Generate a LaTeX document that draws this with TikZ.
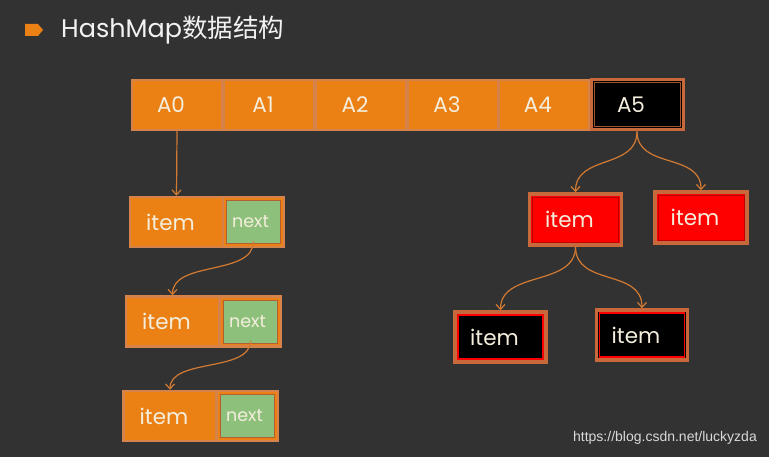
\documentclass[tikz,border=0pt]{standalone}
\usepackage{fontspec}
\setmainfont{Poppins}
\newfontfamily\cjk{Noto Sans CJK SC}
\newfontfamily\wmfont{Liberation Sans}
\usetikzlibrary{arrows.meta}
\definecolor{bg}{HTML}{323232}
\definecolor{orfill}{HTML}{EB8014}
\definecolor{orrim}{HTML}{D5834A}
\definecolor{darkrim}{HTML}{C8693C}
\definecolor{grfill}{HTML}{8DC07A}
\definecolor{lnk}{HTML}{D27A32}
\definecolor{txt}{HTML}{F4EEDD}
\tikzset{
  base/.style={minimum height=50pt, inner sep=0pt, text=txt, font=\fontsize{21.5}{21.5}\selectfont,
    execute at end node={\hspace*{12pt}}},
  cell/.style={base, fill=orfill, draw=orrim, line width=2.5pt, minimum width=90pt},
  blackcell/.style={base, fill=black, draw=darkrim, line width=3pt, minimum width=92pt,
    path picture={\draw[draw=darkrim!80!black, line width=1pt]
      ([shift={(3pt,-3pt)}]path picture bounding box.north west) rectangle
      ([shift={(-3pt,3pt)}]path picture bounding box.south east);}},
  itembox/.style={base, fill=orfill, draw=orrim, line width=2.5pt, minimum width=93pt},
  nextbox/.style={minimum height=50pt, inner sep=0pt, text=txt, fill=orfill, draw=orrim, line width=2.5pt, minimum width=61pt,
    font=\fontsize{17.5}{17.5}\selectfont, execute at end node={\hspace*{6pt}},
    path picture={\draw[fill=grfill, draw=darkrim!90!black, line width=0.8pt]
      ([shift={(3.5pt,-3.5pt)}]path picture bounding box.north west) rectangle
      ([shift={(-3.5pt,3.5pt)}]path picture bounding box.south east);}},
  redbox/.style={base, fill=red, draw=darkrim, line width=3.5pt, minimum width=92pt, minimum height=51pt,
    path picture={\draw[draw=red!75!black, line width=0.8pt]
      ([shift={(3pt,-3pt)}]path picture bounding box.north west) rectangle
      ([shift={(-3pt,3pt)}]path picture bounding box.south east);}},
  blkbox/.style={base, fill=black, draw=darkrim, line width=3.5pt, minimum width=91pt,
    path picture={\draw[draw=red, line width=1.2pt]
      ([shift={(3pt,-3pt)}]path picture bounding box.north west) rectangle
      ([shift={(-3pt,3pt)}]path picture bounding box.south east);}},
  link/.style={draw=lnk, line width=1.2pt, -{Straight Barb[length=5pt,width=9pt,line width=1.2pt]}}
}
\begin{document}
\begin{tikzpicture}[x=1pt, y=-1pt]
\fill[bg] (0,0) rectangle (769,457);
\useasboundingbox (0,0) rectangle (769,457);
% title
\fill[orfill] (25,24) -- (38,24) -- (43,30) -- (38,36) -- (25,36) -- cycle;
\node[anchor=west, text=white!90!gray, font=\fontsize{25.5}{25.5}\selectfont, inner sep=0pt] (title) at (61,30) {HashMap{\cjk 数据结构}};
% array
\node[cell] (A0) at (177,105) {A0};
\node[cell] (A1) at (269,105) {A1};
\node[cell] (A2) at (361,105) {A2};
\node[cell] (A3) at (453,105) {A3};
\node[cell] (A4) at (544,105) {A4};
\node[blackcell] (A5) at (637,105) {A5};
% left chain
\node[itembox] (i1) at (176.5,222) {item};
\node[nextbox] (n1) at (253.5,222) {next};
\node[itembox] (i2) at (172.5,321.5) {item};
\node[nextbox] (n2) at (250.5,321.5) {next};
\node[itembox] (i3) at (170,416) {item};
\node[nextbox] (n3) at (247.5,416) {next};
% right tree
\node[redbox] (r1) at (575.5,219.5) {item};
\node[redbox] (r2) at (701,217.5) {item};
\node[blkbox] (b1) at (500.5,337) {item};
\node[blkbox] (b2) at (642,335) {item};
% links
\draw[link] (A0.south) -- (i1.north);
\draw[link] ([yshift=7pt]n1.south) .. controls +(0,35) and +(0,-35) .. (i2.north);
\draw[link] ([yshift=7pt]n2.south) .. controls +(0,32) and +(0,-32) .. (i3.north);
\draw[link] (A5.south) .. controls +(0,38) and +(0,-38) .. (r1.north);
\draw[link] (A5.south) .. controls +(0,38) and +(0,-38) .. (r2.north);
\draw[link] (r1.south) .. controls +(0,40) and +(0,-40) .. (b1.north);
\draw[link] (r1.south) .. controls +(0,40) and +(0,-40) .. (b2.north);
% watermark
\node[anchor=east, text=white!70!gray, font=\wmfont\fontsize{14}{14}\selectfont, inner sep=0pt] (wm) at (757,438) {https://blog.csdn.net/luckyzda};
\end{tikzpicture}
\end{document}
